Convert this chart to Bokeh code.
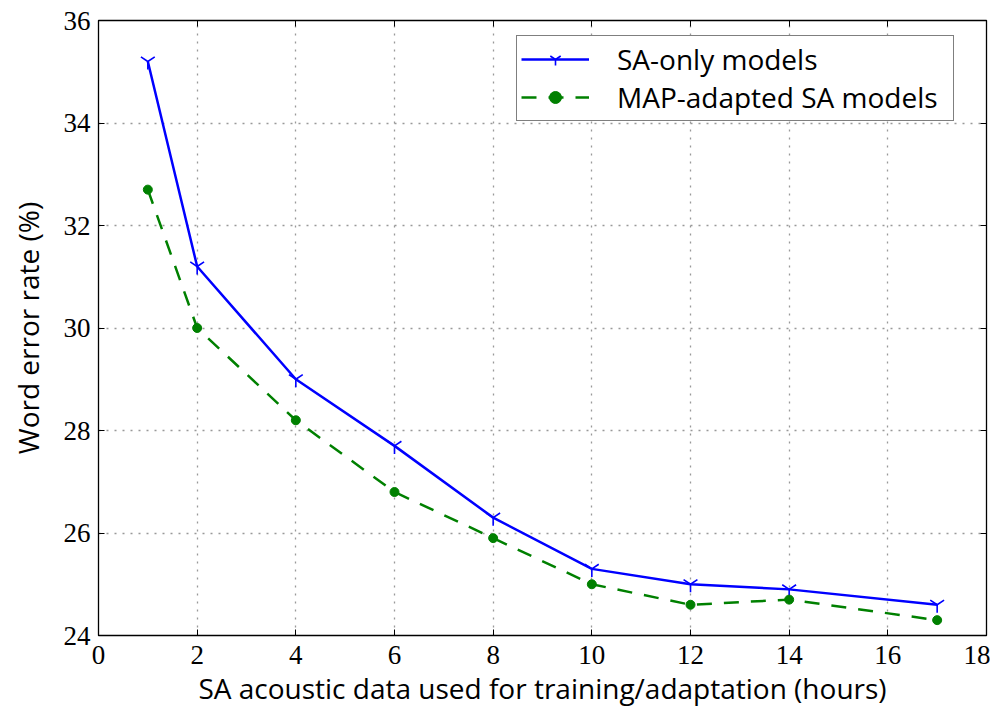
from bokeh.plotting import figure
from bokeh.models import LinearAxis, Range1d, FixedTicker, Legend, LegendItem, CustomJSTickFormatter
from bokeh.embed import file_html
from bokeh.resources import INLINE

hours = [1, 2, 4, 6, 8, 10, 12, 14, 17]
sa_only = [35.2, 31.2, 29.0, 27.7, 26.3, 25.3, 25.0, 24.9, 24.6]
map_adapted = [32.7, 30.0, 28.2, 26.8, 25.9, 25.0, 24.6, 24.7, 24.3]
x_ticks = [0, 2, 4, 6, 8, 10, 12, 14, 16, 18]
y_ticks = [24, 26, 28, 30, 32, 34, 36]

SERIF = "Liberation Serif"
SANS = "Open Sans"

p = figure(width=990, height=709, output_backend="svg", toolbar_location=None,
           x_range=Range1d(0, 18), y_range=Range1d(24, 36),
           min_border_left=98, min_border_right=4, min_border_top=20, min_border_bottom=69,
           x_axis_label="SA acoustic data used for training/adaptation (hours)",
           y_axis_label="Word error rate (%)")
p.background_fill_color = "white"
p.border_fill_color = "white"
p.outline_line_color = "black"
p.outline_line_width = 1.3

for ax in (p.xaxis[0], p.yaxis[0]):
    ax.major_label_text_font = SERIF
    ax.major_label_text_font_size = "27px"
    ax.major_label_text_color = "black"
    ax.axis_label_text_font = SANS
    ax.axis_label_text_font_size = "28px"
    ax.axis_label_text_font_style = "normal"
    ax.axis_label_text_color = "black"
    ax.major_tick_in = 6
    ax.major_tick_out = 0
    ax.minor_tick_in = 0
    ax.minor_tick_out = 0
    ax.axis_line_color = "black"
    ax.major_tick_line_color = "black"
p.xaxis[0].ticker = FixedTicker(ticks=x_ticks)
p.yaxis[0].ticker = FixedTicker(ticks=y_ticks)
p.xaxis[0].major_label_standoff = 10
p.yaxis[0].major_label_standoff = 8
p.xaxis[0].axis_label_standoff = 2
p.yaxis[0].axis_label_standoff = 14

blank = CustomJSTickFormatter(code="return '';")
top = LinearAxis(ticker=FixedTicker(ticks=x_ticks), major_tick_in=6, major_tick_out=0,
                 minor_tick_in=0, minor_tick_out=0, formatter=blank,
                 axis_line_color=None)
right = LinearAxis(ticker=FixedTicker(ticks=y_ticks), major_tick_in=6, major_tick_out=0,
                   minor_tick_in=0, minor_tick_out=0, formatter=blank,
                   axis_line_color=None)
p.add_layout(top, "above")
p.add_layout(right, "right")

p.xgrid.ticker = FixedTicker(ticks=x_ticks)
p.ygrid.ticker = FixedTicker(ticks=y_ticks)
for g in (p.xgrid[0], p.ygrid[0]):
    g.grid_line_color = "#999999"
    g.grid_line_dash = "2 6"
    g.grid_line_width = 1.3

l1 = p.line(hours, sa_only, line_color="blue", line_width=2.5)
m1 = p.scatter(hours, sa_only, marker="y", size=16, line_color="blue", line_width=1.6)
l2 = p.line(hours, map_adapted, line_color="green", line_width=2.5, line_dash="15 12")
m2 = p.scatter(hours, map_adapted, marker="circle", size=9, fill_color="green", line_color="green")

legend = Legend(items=[LegendItem(label="SA-only models", renderers=[l1, m1]),
                       LegendItem(label="MAP-adapted SA models", renderers=[l2, m2])],
                location=(418, 514), margin=0, padding=4, spacing=0,
                label_height=30, glyph_height=30, glyph_width=68, label_standoff=28,
                label_width=332,
                label_text_font=SANS, label_text_font_size="28px",
                label_text_color="black",
                border_line_color="black", border_line_width=1.3,
                background_fill_color="white", background_fill_alpha=1)
p.add_layout(legend)

open("out.html", "w").write(file_html(p, INLINE))
